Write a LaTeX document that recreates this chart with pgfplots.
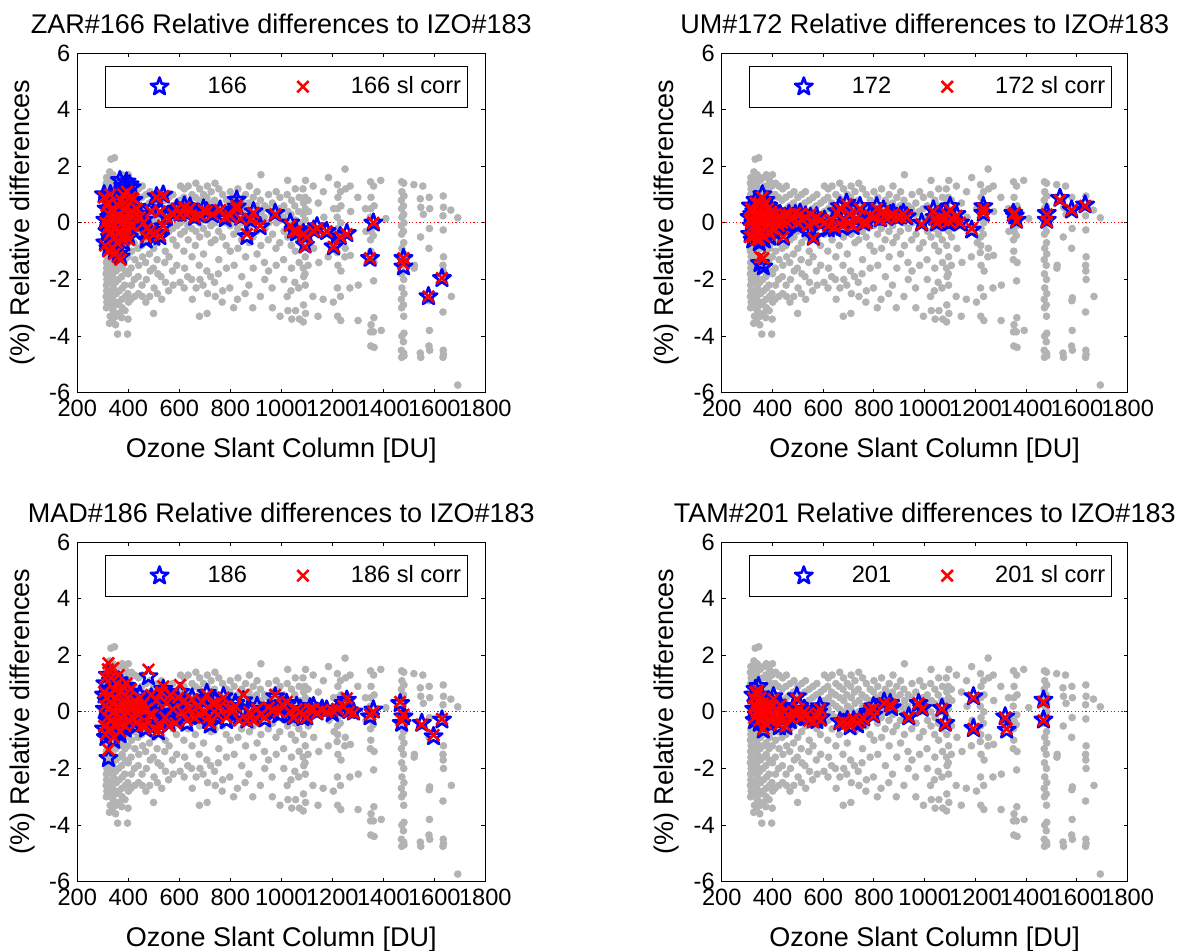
\documentclass[border=0pt]{standalone}
\usepackage{fontspec}
\setmainfont{Liberation Sans}
\usepackage{pgfplots}
\usepackage{pgfplotstable}
\pgfplotsset{compat=1.18}
\definecolor{graypt}{RGB}{179,179,179}
\pgfdeclareplotmark{pentagram}{%
  \pgfpathmoveto{\pgfpointpolar{90}{\pgfplotmarksize}}%
  \pgfpathlineto{\pgfpointpolar{126}{0.4\pgfplotmarksize}}%
  \pgfpathlineto{\pgfpointpolar{162}{\pgfplotmarksize}}%
  \pgfpathlineto{\pgfpointpolar{198}{0.4\pgfplotmarksize}}%
  \pgfpathlineto{\pgfpointpolar{234}{\pgfplotmarksize}}%
  \pgfpathlineto{\pgfpointpolar{270}{0.4\pgfplotmarksize}}%
  \pgfpathlineto{\pgfpointpolar{306}{\pgfplotmarksize}}%
  \pgfpathlineto{\pgfpointpolar{342}{0.4\pgfplotmarksize}}%
  \pgfpathlineto{\pgfpointpolar{18}{\pgfplotmarksize}}%
  \pgfpathlineto{\pgfpointpolar{54}{0.4\pgfplotmarksize}}%
  \pgfpathclose
  \pgfusepathqstroke
}

% shared gray background points
\pgfplotstableread[row sep=\\]{
x y\\
315 1.6\\ 313 1.4\\ 316 1.2\\ 314 1.0\\ 315 0.8\\ 313 0.6\\ 316 0.4\\ 314 0.2\\ 315 0\\ 313 -0.2\\ 316 -0.4\\ 314 -0.6\\ 315 -0.8\\ 313 -1.0\\ 316 -1.2\\ 314 -1.4\\ 315 -1.6\\ 313 -1.8\\ 316 -2.0\\ 314 -2.2\\ 315 -2.4\\ 313 -2.6\\ 316 -2.8\\ 314 -3.0\\
327 1.8\\ 329 1.5\\ 326 1.1\\ 328 0.7\\ 327 0.3\\ 329 -0.1\\ 326 -0.5\\ 328 -0.9\\ 327 -1.3\\ 329 -1.7\\ 326 -2.1\\ 328 -2.5\\ 327 -2.9\\ 329 -3.3\\ 326 -3.55\\
332 2.25\\ 340 1.7\\ 338 1.3\\ 341 0.9\\ 339 0.5\\ 340 0.1\\ 338 -0.3\\ 341 -0.7\\ 339 -1.1\\ 340 -1.5\\ 338 -1.9\\ 341 -2.3\\ 339 -2.7\\ 340 -3.1\\ 338 -3.5\\
346 2.3\\ 352 1.5\\ 350 1.1\\ 353 0.7\\ 351 0.3\\ 352 -0.1\\ 350 -0.5\\ 353 -0.9\\ 351 -1.3\\ 352 -1.7\\ 350 -2.1\\ 353 -2.5\\ 351 -2.9\\ 352 -3.3\\ 350 -3.6\\ 358 -3.93\\
364 1.6\\ 362 1.2\\ 365 0.8\\ 363 0.4\\ 364 0.0\\ 362 -0.4\\ 365 -0.8\\ 363 -1.2\\ 364 -1.6\\ 362 -2.0\\ 365 -2.4\\ 363 -2.8\\ 364 -3.2\\
376 1.7\\ 374 1.3\\ 377 0.9\\ 375 0.5\\ 376 0.1\\ 374 -0.3\\ 377 -0.7\\ 375 -1.1\\ 376 -1.5\\ 374 -1.9\\ 377 -2.3\\ 375 -2.7\\ 376 -3.0\\ 374 -3.35\\
388 1.5\\ 386 1.1\\ 389 0.7\\ 387 0.3\\ 388 -0.1\\ 386 -0.5\\ 389 -0.9\\ 387 -1.3\\ 388 -1.7\\ 386 -2.2\\ 389 -2.6\\ 387 -3.1\\ 397 -3.93\\
400 1.7\\ 398 1.3\\ 401 0.9\\ 399 0.5\\ 400 0.1\\ 398 -0.3\\ 401 -0.7\\ 399 -1.2\\ 400 -1.8\\ 398 -2.5\\ 401 -2.8\\ 399 -3.4\\
412 1.4\\ 410 1.0\\ 413 0.6\\ 411 0.2\\ 412 -0.2\\ 410 -0.6\\ 413 -1.0\\ 411 -1.6\\ 412 -2.2\\ 410 -2.7\\
425 1.3\\ 423 0.9\\ 426 0.5\\ 424 0.1\\ 425 -0.3\\ 423 -0.7\\ 426 -1.3\\ 424 -2.0\\ 425 -2.6\\
440 1.2\\ 438 0.8\\ 441 0.4\\ 439 0.0\\ 440 -0.4\\ 438 -0.9\\ 441 -1.5\\ 439 -1.9\\ 440 -2.5\\
455 1.3\\ 453 0.9\\ 456 0.5\\ 454 0.1\\ 455 -0.3\\ 453 -0.8\\ 456 -1.2\\ 454 -2.2\\ 455 -2.6\\
470 1.0\\ 468 0.6\\ 471 0.2\\ 469 -0.2\\ 470 -0.6\\ 468 -1.4\\ 471 -2.0\\ 469 -2.8\\
485 1.1\\ 483 0.7\\ 486 0.3\\ 484 -0.1\\ 485 -0.5\\ 483 -1.1\\ 486 -1.7\\ 484 -2.6\\
500 0.9\\ 498 0.5\\ 501 0.1\\ 499 -0.3\\ 500 -0.9\\ 498 -1.6\\ 501 -2.3\\ 499 -3.2\\
515 1.0\\ 513 0.6\\ 516 0.2\\ 514 -0.2\\ 515 -0.7\\ 513 -1.3\\ 516 -1.8\\ 514 -2.5\\
530 1.1\\ 528 0.7\\ 531 0.3\\ 529 -0.1\\ 530 -0.5\\ 528 -1.9\\ 531 -2.7\\
545 0.8\\ 543 0.4\\ 546 0.0\\ 544 -0.4\\ 545 -1.0\\ 543 -1.4\\ 546 -2.1\\
560 0.9\\ 558 0.5\\ 561 0.1\\ 559 -0.3\\ 560 -1.2\\ 558 -2.4\\
575 1.0\\ 573 0.6\\ 576 0.2\\ 574 -0.2\\ 575 -0.6\\ 573 -1.7\\ 576 -2.2\\
590 0.7\\ 588 0.3\\ 591 -0.1\\ 589 -0.8\\ 590 -1.5\\
605 1.3\\ 603 0.8\\ 606 0.4\\ 604 0.0\\ 605 -0.4\\ 603 -2.1\\
620 1.2\\ 618 0.9\\ 621 0.5\\ 619 0.1\\ 620 -0.3\\ 618 -1.0\\ 621 -1.6\\ 619 -2.3\\
635 1.3\\ 633 0.7\\ 636 0.3\\ 634 -0.1\\ 635 -0.6\\ 633 -1.9\\
650 1.0\\ 648 0.6\\ 651 0.2\\ 649 -0.2\\ 650 -1.2\\ 648 -2.0\\ 651 -2.7\\
665 1.4\\ 663 0.9\\ 666 0.5\\ 664 0.1\\ 665 -0.3\\ 663 -0.8\\ 666 -2.3\\
680 1.2\\ 678 0.8\\ 681 0.4\\ 679 0.0\\ 680 -0.5\\ 678 -1.5\\ 681 -2.0\\ 679 -3.3\\
695 1.0\\ 693 0.6\\ 696 0.2\\ 694 -0.2\\ 695 -1.1\\ 693 -2.2\\
710 1.3\\ 708 0.9\\ 711 0.5\\ 709 0.1\\ 710 -0.4\\ 708 -1.7\\ 711 -2.5\\ 709 -3.2\\
725 1.1\\ 723 0.7\\ 726 0.3\\ 724 -0.1\\ 725 -0.7\\ 723 -1.9\\
740 1.4\\ 738 0.8\\ 741 0.4\\ 739 0.0\\ 740 -0.6\\ 738 -2.1\\ 741 -2.6\\
755 1.2\\ 753 0.6\\ 756 0.2\\ 754 -0.3\\ 755 -1.3\\ 753 -1.8\\
770 1.0\\ 768 0.5\\ 771 0.1\\ 769 -0.5\\ 770 -2.4\\ 768 -2.8\\
785 0.8\\ 783 0.4\\ 786 0.0\\ 784 -0.8\\ 785 -1.6\\
800 1.1\\ 798 0.7\\ 801 0.3\\ 799 -0.1\\ 800 -1.0\\ 798 -2.3\\
815 0.9\\ 813 0.5\\ 816 0.1\\ 814 -0.4\\ 815 -1.5\\ 813 -3.0\\
830 1.2\\ 828 0.6\\ 831 0.2\\ 829 -0.2\\ 830 -0.9\\ 828 -2.7\\
845 0.8\\ 843 0.4\\ 846 0.0\\ 844 -0.6\\ 845 -1.9\\
860 1.0\\ 858 0.6\\ 861 0.2\\ 859 -0.3\\ 860 -1.2\\ 858 -2.5\\
875 1.3\\ 873 0.7\\ 876 0.3\\ 874 -0.1\\ 875 -0.7\\ 873 -2.2\\
890 0.9\\ 888 0.5\\ 891 0.1\\ 889 -0.5\\ 890 -1.6\\ 888 -3.0\\
905 1.1\\ 903 0.6\\ 906 0.2\\ 904 -0.3\\ 905 -1.1\\
920 1.7\\ 918 0.8\\ 921 0.4\\ 919 0.0\\ 920 -0.8\\ 918 -2.6\\
935 0.6\\ 933 0.2\\ 936 -0.2\\ 934 -1.4\\ 935 -2.0\\
950 1.0\\ 948 0.5\\ 951 0.0\\ 949 -0.6\\ 950 -1.7\\
965 0.7\\ 963 0.3\\ 966 -0.4\\ 964 -2.3\\ 965 -3.0\\
980 1.1\\ 978 0.4\\ 981 0.0\\ 979 -0.9\\ 980 -1.5\\
995 0.9\\ 993 0.5\\ 996 0.1\\ 994 -0.7\\ 995 -3.3\\
1010 0.6\\ 1008 0.2\\ 1011 -0.3\\ 1009 -1.3\\ 1010 -2.0\\
1025 1.5\\ 1023 1.0\\ 1026 0.4\\ 1024 0.0\\ 1025 -0.5\\ 1023 -2.6\\ 1026 -3.1\\
1040 0.8\\ 1038 0.3\\ 1041 -0.2\\ 1039 -0.8\\ 1040 -1.6\\ 1038 -2.4\\ 1041 -3.4\\
1055 1.2\\ 1053 0.6\\ 1056 0.1\\ 1054 -0.4\\ 1055 -1.0\\ 1053 -2.1\\ 1056 -3.1\\
1070 0.9\\ 1068 0.4\\ 1071 0.0\\ 1069 -0.6\\ 1070 -1.4\\ 1068 -2.3\\ 1071 -3.4\\
1085 1.2\\ 1087 0.7\\ 1086 0.3\\ 1088 -0.2\\ 1087 -0.8\\ 1086 -1.6\\ 1088 -1.9\\ 1087 -2.9\\ 1086 -3.5\\
1095 1.5\\ 1093 0.9\\ 1094 0.5\\ 1093 0.1\\ 1095 -0.3\\ 1094 -1.2\\ 1093 -1.8\\ 1094 -2.2\\ 1095 -3.2\\
1105 0.8\\ 1107 0.4\\ 1106 -0.5\\ 1105 -1.5\\
1125 1.3\\ 1127 -0.9\\ 1124 -2.6\\
1145 0.7\\ 1147 -1.4\\ 1144 -3.3\\
1165 1.1\\ 1167 0.2\\ 1164 -2.7\\
1185 1.6\\ 1187 -0.3\\ 1184 -1.2\\
1205 0.5\\ 1207 -0.7\\ 1204 -2.8\\
1220 1.35\\ 1222 0.9\\ 1221 0.5\\ 1219 0.2\\ 1222 -0.2\\ 1220 -0.5\\ 1221 -0.8\\ 1219 -1.05\\ 1222 -1.5\\ 1220 -2.3\\ 1221 -3.3\\
1232 1.1\\ 1234 0.6\\ 1233 0.0\\ 1231 -0.4\\ 1234 -1.7\\ 1232 -2.6\\ 1233 -3.45\\
1250 1.9\\ 1252 1.2\\ 1251 -0.9\\ 1249 -1.2\\
1270 1.3\\ 1272 0.4\\ 1271 -1.15\\ 1269 -2.3\\
1300 0.9\\ 1302 -2.2\\ 1301 -3.45\\
1330 0.5\\ 1332 -0.3\\
1350 1.45\\ 1352 0.9\\ 1351 0.5\\ 1349 0.2\\ 1352 -0.3\\ 1350 -0.6\\ 1351 -1.0\\ 1349 -1.3\\ 1352 -3.6\\ 1350 -3.85\\ 1351 -4.35\\
1362 1.3\\ 1364 0.6\\ 1363 -0.1\\ 1361 -0.45\\ 1364 -1.4\\ 1362 -2.05\\ 1363 -3.35\\ 1361 -3.85\\ 1364 -4.4\\
1390 1.5\\ 1392 -3.8\\
1410 0.15\\
1472 1.45\\ 1473 1.1\\ 1471 0.8\\ 1472 0.5\\ 1473 0.2\\ 1471 -0.1\\ 1472 -0.4\\ 1473 -0.9\\ 1471 -1.3\\ 1472 -1.8\\ 1473 -2.3\\ 1471 -2.7\\ 1472 -3.0\\ 1473 -4.0\\ 1471 -4.5\\ 1472 -4.75\\
1480 1.4\\ 1481 0.95\\ 1479 0.6\\ 1480 0.3\\ 1481 0.0\\ 1479 -0.3\\ 1480 -0.7\\ 1481 -1.1\\ 1479 -1.5\\ 1480 -2.0\\ 1481 -2.5\\ 1479 -2.9\\ 1480 -3.3\\ 1481 -3.9\\ 1479 -4.2\\ 1480 -4.6\\ 1481 -4.7\\
1520 1.35\\ 1522 -1.5\\ 1521 -1.6\\
1545 0.85\\ 1547 0.55\\ 1546 -0.5\\ 1545 -4.6\\ 1547 -4.75\\
1555 1.3\\ 1557 0.3\\
1580 0.9\\ 1582 0.5\\ 1581 -0.2\\ 1579 -0.9\\ 1582 -2.65\\ 1580 -2.75\\ 1581 -3.8\\ 1579 -4.35\\ 1582 -4.5\\
1635 0.95\\ 1636 0.55\\ 1634 0.25\\ 1635 -0.25\\ 1636 -1.2\\ 1634 -1.5\\ 1635 -1.7\\ 1636 -2.0\\ 1634 -3.15\\ 1635 -4.5\\ 1636 -4.65\\ 1634 -4.75\\
1665 0.45\\ 1667 -2.6\\
1692 0.18\\ 1692 -5.73\\
}\grayd

% ZAR#166: x, star (166), cross (166 sl corr)
\pgfplotstableread[row sep=\\]{
x b r\\
305 1.0 0.9\\ 310 0.1 0.0\\ 310 -0.7 -0.8\\ 315 0.5 0.6\\ 318 -0.3 -0.2\\ 320 0.8 0.7\\ 322 -0.9 -1.0\\ 325 0.2 0.3\\ 328 -0.5 -0.4\\ 330 1.0 1.0\\
332 0.0 -0.1\\ 335 -0.2 -0.3\\ 338 0.4 0.5\\ 340 -0.8 -0.9\\ 342 0.6 0.4\\ 345 -1.0 -1.1\\ 348 0.1 0.2\\ 350 -0.4 -0.5\\ 352 0.3 0.2\\ 355 -0.6 -0.7\\
358 0.0 0.1\\ 360 -1.1 -1.2\\ 362 0.5 0.6\\ 365 -0.2 -0.3\\ 368 0.2 0.1\\ 370 -1.2 -1.3\\ 372 0.7 0.8\\ 375 -0.4 -0.5\\ 378 0.1 0.0\\ 380 0.9 1.0\\
382 -0.7 -0.6\\ 385 0.3 0.2\\ 388 -0.1 -0.2\\ 390 0.6 0.5\\ 392 -0.3 -0.4\\ 395 1.0 1.1\\ 398 0.0 0.1\\ 400 0.4 0.3\\ 402 -0.5 -0.6\\ 405 0.2 0.1\\
408 0.8 0.9\\ 410 -0.2 -0.1\\ 415 0.5 0.4\\ 418 0.0 -0.1\\ 420 0.3 0.2\\
367 1.5 nan\\ 380 1.3 nan\\ 393 1.45 nan\\ 405 1.35 nan\\ 413 1.25 nan\\ 385 1.1 nan\\
420 0.8 0.85\\ 433 0.55 0.5\\ 445 0.3 0.2\\ 459 0.1 0.0\\ 470 -0.6 -0.5\\ 472 -0.3 -0.2\\ 485 -0.25 -0.3\\ 490 0.5 0.4\\ 500 -0.5 -0.4\\ 511 0.93 0.9\\
524 0.46 0.4\\ 524 -0.48 -0.45\\ 537 0.99 0.95\\ 537 -0.13 -0.1\\ 550 0.2 0.2\\ 577 0.34 0.3\\ 590 0.5 0.5\\ 603 0.34 0.3\\ 620 0.6 0.55\\ 629 0.34 0.3\\
642 0.57 0.5\\ 660 0.2 0.2\\ 681 0.28 0.25\\ 695 0.5 0.45\\ 707 0.4 0.4\\ 730 0.3 0.3\\ 760 0.46 0.45\\ 780 0.15 0.2\\ 799 0.28 0.25\\ 825 0.81 0.6\\
825 0.57 0.5\\ 840 0.2 0.15\\ 865 -0.48 -0.4\\ 880 0.1 0.1\\ 891 0.4 0.35\\ 917 -0.13 -0.1\\ 976 0.34 0.3\\ 1035 0.0 -0.1\\ 1048 -0.25 -0.3\\ 1060 -0.35 -0.3\\
1087 -0.37 -0.4\\ 1093 -0.78 -0.85\\ 1100 -0.45 -0.5\\ 1127 -0.25 -0.3\\ 1140 -0.13 -0.2\\ 1178 -0.3 -0.3\\ 1205 -0.84 -0.85\\ 1231 -0.48 -0.5\\ 1257 -0.37 -0.4\\
1348 -1.25 -1.25\\ 1361 0.0 0.0\\ 1479 -1.25 -1.25\\ 1479 -1.55 -1.45\\ 1577 -2.6 -2.6\\ 1630 -1.96 -1.95\\
}\dataA

% UM#172
\pgfplotstableread[row sep=\\]{
x b r\\
310 0.2 0.1\\ 312 -0.4 -0.5\\ 315 0.6 0.5\\ 318 -0.1 0.0\\ 320 0.3 0.4\\ 322 -0.6 -0.5\\ 325 0.0 -0.1\\ 328 0.4 0.3\\ 330 -0.3 -0.2\\ 333 0.8 0.7\\
335 0.1 0.2\\ 338 -0.5 -0.6\\ 340 0.5 0.4\\ 343 -0.2 -0.1\\ 345 0.2 0.1\\ 348 -0.7 -0.6\\ 350 0.6 0.7\\ 352 0.0 0.1\\ 355 -0.4 -0.3\\ 358 0.3 0.2\\
360 1.0 0.9\\ 362 -0.1 0.0\\ 365 0.5 0.6\\ 368 -0.6 -0.5\\ 370 0.2 0.3\\ 372 0.8 0.7\\ 375 -0.3 -0.2\\ 378 0.4 0.3\\ 380 0.0 0.1\\ 383 0.6 0.5\\
385 -0.2 -0.3\\ 388 0.3 0.2\\ 390 -0.5 -0.4\\ 393 0.1 0.0\\ 395 0.5 0.4\\ 398 -0.1 -0.2\\ 400 0.2 0.3\\ 405 -0.3 -0.2\\ 410 0.4 0.3\\ 415 0.0 0.1\\
420 0.2 0.2\\ 425 -0.2 -0.1\\ 430 0.3 0.2\\ 438 0.1 0.0\\ 443 -0.5 -0.5\\ 450 0.2 0.3\\ 458 -0.1 0.0\\ 465 0.3 0.3\\ 472 0.0 0.1\\ 480 0.2 0.2\\
490 0.3 0.35\\ 500 -0.1 0.0\\ 509 0.34 0.3\\ 520 0.0 0.1\\ 530 0.25 0.2\\ 540 -0.2 -0.1\\ 550 0.2 0.3\\ 561 -0.5 -0.55\\ 565 0.1 0.0\\ 574 0.22 0.2\\
590 0.0 0.1\\ 605 0.1 0.0\\ 620 -0.2 -0.1\\ 635 0.0 0.1\\ 645 -0.2 -0.15\\ 655 0.4 0.35\\ 666 0.58 0.5\\ 675 -0.15 -0.1\\ 680 0.2 0.1\\ 692 0.7 0.65\\
700 0.1 0.0\\ 705 0.34 0.3\\ 718 -0.13 -0.1\\ 730 0.2 0.15\\ 745 0.58 0.5\\ 760 0.0 0.0\\ 771 0.1 0.0\\ 785 0.3 0.25\\ 800 0.2 0.2\\ 811 0.58 0.5\\
825 0.15 0.1\\ 837 0.46 0.4\\ 850 0.2 0.15\\ 865 0.3 0.25\\ 876 0.34 0.3\\ 890 0.2 0.2\\ 905 0.25 0.2\\ 916 0.34 0.3\\ 929 0.22 0.2\\ 988 0.0 -0.05\\
1034 0.46 0.4\\ 1040 0.2 0.15\\ 1047 0.0 0.0\\ 1060 0.3 0.2\\ 1075 0.1 0.1\\ 1087 0.34 0.3\\ 1095 0.0 0.05\\ 1100 0.58 0.45\\ 1113 0.1 0.1\\ 1125 0.3 0.25\\
1139 0.0 0.0\\ 1185 -0.25 -0.2\\ 1231 0.58 0.5\\ 1231 0.34 0.35\\ 1349 0.34 0.3\\ 1362 0.1 0.05\\ 1355 0.25 0.35\\ 1481 0.34 0.3\\ 1481 0.1 0.05\\ 1533 0.87 0.8\\
1579 0.46 0.45\\ 1632 0.64 0.6\\ 351 -1.43 -1.2\\ 364 -1.55 -1.25\\
}\dataB

% MAD#186
\pgfplotstableread[row sep=\\]{
x b r\\
305 0.6 0.7\\ 305 -0.6 -0.5\\ 308 0.1 0.2\\ 310 1.0 1.2\\ 312 -0.9 -0.8\\ 315 0.4 0.5\\ 318 -0.3 -0.2\\ 320 1.3 1.5\\ 322 -1.64 -1.34\\ 322 0.8 1.72\\
325 0.0 0.1\\ 328 -0.7 -0.6\\ 330 0.5 0.6\\ 332 1.1 1.2\\ 335 -0.4 -0.3\\ 338 0.2 0.3\\ 341 1.2 1.55\\ 343 -1.0 -0.9\\ 345 0.7 0.8\\ 348 -0.1 0.0\\
350 0.4 0.5\\ 352 -0.6 -0.5\\ 355 0.9 1.0\\ 358 0.1 0.2\\ 360 -0.3 -0.4\\ 362 1.1 1.3\\ 365 0.3 0.2\\ 368 -0.8 -0.7\\ 370 0.6 0.7\\ 372 0.0 0.1\\
375 -0.5 -0.4\\ 378 0.8 0.9\\ 380 0.2 0.3\\ 383 -0.2 -0.1\\ 385 0.5 0.4\\ 388 -0.6 -0.5\\ 390 0.3 0.2\\ 393 0.9 1.0\\ 395 -0.1 0.0\\ 398 0.4 0.5\\
400 -0.4 -0.3\\ 405 0.2 0.1\\ 410 0.7 0.8\\ 415 -0.3 -0.2\\ 420 0.1 0.2\\ 425 0.5 0.4\\ 430 -0.5 -0.4\\ 435 0.3 0.2\\ 440 -0.2 -0.1\\ 445 0.6 0.5\\
450 0.0 0.1\\ 455 -0.4 -0.5\\ 460 0.4 0.3\\ 468 -0.6 -0.5\\ 472 0.2 0.1\\ 479 1.25 1.49\\ 485 -0.2 -0.1\\ 490 0.5 0.6\\ 495 0.0 -0.1\\ 500 -0.5 -0.6\\
510 0.3 0.4\\ 518 -0.7 -0.65\\ 524 -0.4 -0.5\\ 530 0.6 0.7\\ 537 0.8 0.9\\ 545 -0.3 -0.2\\ 550 0.2 0.3\\ 560 -0.4 -0.5\\ 565 0.5 0.6\\ 575 0.0 0.1\\
585 -0.3 -0.4\\ 595 0.4 0.5\\ 603 0.7 0.95\\ 610 -0.1 0.0\\ 620 0.3 0.4\\ 630 -0.4 -0.3\\ 640 0.2 0.1\\ 650 0.5 0.45\\ 660 -0.1 -0.2\\ 670 0.3 0.2\\
681 -0.17 -0.1\\ 690 0.4 0.35\\ 700 0.1 0.0\\ 708 0.66 0.6\\ 715 -0.3 -0.2\\ 721 -0.46 -0.4\\ 730 0.2 0.3\\ 740 0.4 0.3\\ 750 -0.2 -0.1\\ 760 0.1 0.2\\
773 0.54 0.5\\ 785 -0.3 -0.2\\ 795 0.2 0.1\\ 810 0.0 0.1\\ 820 0.3 0.2\\ 835 -0.2 -0.3\\ 851 0.4 0.6\\ 865 -0.28 -0.3\\ 875 0.1 0.0\\ 890 -0.2 -0.3\\
905 0.2 0.1\\ 920 0.0 -0.1\\ 935 -0.25 -0.2\\ 950 0.1 0.15\\ 976 0.54 0.6\\ 968 0.0 0.05\\ 990 -0.1 0.0\\ 1005 0.2 0.25\\ 1021 0.3 0.35\\ 1035 -0.1 0.0\\
1048 -0.17 -0.2\\ 1060 0.2 0.1\\ 1075 0.1 0.0\\ 1085 -0.2 -0.1\\ 1100 -0.17 -0.2\\ 1113 0.15 0.1\\ 1126 0.19 0.1\\ 1140 0.0 -0.05\\ 1160 0.1 0.05\\ 1178 0.07 0.0\\
1200 -0.05 0.05\\ 1220 0.1 0.1\\ 1244 0.3 0.2\\ 1257 0.42 0.48\\ 1265 0.05 0.0\\ 1283 0.0 -0.05\\ 1348 -0.17 -0.1\\ 1361 0.07 0.0\\ 1466 0.3 0.35\\ 1479 -0.17 -0.1\\
1472 -0.4 -0.3\\ 1551 -0.4 -0.45\\ 1597 -0.87 -0.82\\ 1630 -0.28 -0.25\\
}\dataC

% TAM#201
\pgfplotstableread[row sep=\\]{
x b r\\
325 0.6 0.5\\ 328 0.1 0.2\\ 330 -0.3 -0.2\\ 333 0.8 0.7\\ 336 0.3 0.2\\ 338 -0.1 0.0\\ 340 0.5 0.6\\ 343 0.0 -0.1\\ 345 0.9 0.75\\ 348 -0.4 -0.3\\
350 0.2 0.3\\ 353 0.6 0.5\\ 356 -0.2 -0.1\\ 358 0.1 0.0\\ 361 0.4 0.3\\ 364 -0.64 -0.6\\ 367 0.0 0.1\\ 370 0.3 0.2\\ 373 -0.3 -0.4\\ 376 0.2 0.1\\
380 -0.1 0.0\\ 384 0.4 0.3\\ 388 -0.4 -0.3\\ 392 0.1 0.2\\ 396 -0.2 -0.3\\ 400 0.3 0.2\\ 404 0.54 0.45\\ 408 0.0 -0.1\\ 412 -0.3 -0.2\\ 418 0.2 0.1\\
422 -0.1 0.0\\ 427 -0.52 -0.45\\ 432 0.2 0.25\\ 440 -0.2 -0.3\\ 447 0.1 0.0\\ 453 -0.52 -0.5\\ 460 0.0 -0.1\\ 470 -0.3 -0.2\\ 480 0.1 0.0\\ 490 -0.2 -0.1\\
496 0.54 0.45\\ 496 -0.17 -0.1\\ 505 0.2 0.1\\ 515 -0.1 -0.2\\ 525 0.1 0.0\\ 535 0.0 -0.1\\ 545 -0.2 -0.3\\ 561 -0.28 -0.35\\ 575 -0.3 -0.2\\ 580 0.0 -0.05\\
587 0.19 0.1\\ 590 -0.2 -0.3\\ 666 -0.34 -0.4\\ 680 -0.4 -0.35\\ 695 -0.3 -0.4\\ 706 -0.52 -0.5\\ 720 -0.3 -0.25\\ 735 -0.45 -0.4\\ 745 -0.28 -0.3\\ 760 -0.2 -0.25\\
780 0.0 0.05\\ 798 0.19 0.1\\ 798 -0.1 -0.15\\ 840 0.35 0.3\\ 864 0.3 0.25\\ 870 0.15 0.2\\ 937 -0.17 -0.2\\ 976 0.3 0.3\\ 990 0.13 0.1\\ 1068 0.13 0.1\\
1081 -0.4 -0.45\\ 1192 0.54 0.5\\ 1192 -0.58 -0.6\\ 1317 -0.17 -0.2\\ 1323 -0.64 -0.6\\ 1468 0.42 0.35\\ 1468 -0.28 -0.3\\
}\dataD

\pgfplotsset{
  panel/.style={
    scale only axis, width=204pt, height=169.85pt,
    xmin=200, xmax=1800, ymin=-6, ymax=6,
    xtick={200,400,...,1800}, ytick={-6,-4,...,6},
    tick align=inside, major tick length=2pt,
    axis line style={line width=0.5pt},
    every tick/.style={black, line width=0.5pt},
    tick label style={font=\fontsize{11.8}{14}\selectfont},
    /pgf/number format/assume math mode=true,
    /pgf/number format/1000 sep={},
    xlabel={Ozone Slant Column [DU]},
    ylabel={(\%) Relative differences},
    label style={font=\fontsize{13.5}{16}\selectfont},
    xlabel style={at={(axis description cs:0.5,-0.171)}, anchor=center},
    ylabel style={at={(axis description cs:-0.135,0.5)}, anchor=center},
    every axis title shift=0pt,
    title style={font=\fontsize{13.5}{16}\selectfont, at={(axis description cs:0.5,1.085)}, anchor=center},
    legend columns=2,
    legend style={at={(0.068,0.963)}, anchor=north west, draw=black, line width=0.5pt,
      fill=white, inner xsep=3pt, inner ysep=2.3pt,
      font=\fontsize{11.8}{14}\selectfont,
      nodes={inner xsep=0pt, inner ysep=3pt},
      /tikz/every even column/.append style={column sep=4pt}},
    legend image code/.code={\path[draw=none,fill=none] (0pt,-4pt) rectangle (48pt,4pt); \draw[##1] plot coordinates {(24pt,0pt)};},
  },
  graypts/.style={only marks, mark=*, mark size=1.7pt, color=graypt, mark options={draw=graypt, fill=graypt}, forget plot},
  zeroline/.style={red, line width=0.5pt, dash pattern=on 0.6pt off 1.2pt, forget plot},
  stars/.style={only marks, color=blue, mark=pentagram, mark size=4.6pt, line width=1.3pt, mark options={line join=round}},
  crosses/.style={only marks, color=red, mark=x, mark size=4pt, line width=1.3pt},
}

\begin{document}
\begin{tikzpicture}
\useasboundingbox (0,0) rectangle (588.5pt,475pt);

\begin{axis}[panel, at={(38.65pt,278.65pt)}, anchor=south west,
  title={ZAR\#166 Relative differences to IZO\#183}]
  \addplot[graypts] table[x=x,y=y]{\grayd};
  \addplot[zeroline] coordinates {(200,0) (1800,0)};
  \addplot[stars] table[x=x,y=b]{\dataA};
  \addplot[crosses] table[x=x,y=r]{\dataA};
  \legend{166, 166 sl corr\hspace{3.5pt}}
\end{axis}

\begin{axis}[panel, at={(360.85pt,278.65pt)}, anchor=south west, width=203pt,
  title={UM\#172 Relative differences to IZO\#183}]
  \addplot[graypts] table[x=x,y=y]{\grayd};
  \addplot[zeroline] coordinates {(200,0) (1800,0)};
  \addplot[stars] table[x=x,y=b]{\dataB};
  \addplot[crosses] table[x=x,y=r]{\dataB};
  \legend{172, 172 sl corr\hspace{3.5pt}}
\end{axis}

\begin{axis}[panel, at={(38.65pt,34.15pt)}, anchor=south west,
  title={MAD\#186 Relative differences to IZO\#183}]
  \addplot[graypts] table[x=x,y=y]{\grayd};
  \addplot[zeroline] coordinates {(200,0) (1800,0)};
  \addplot[stars] table[x=x,y=b]{\dataC};
  \addplot[crosses] table[x=x,y=r]{\dataC};
  \legend{186, 186 sl corr\hspace{3.5pt}}
\end{axis}

\begin{axis}[panel, at={(360.85pt,34.15pt)}, anchor=south west, width=203pt,
  title={TAM\#201 Relative differences to IZO\#183}]
  \addplot[graypts] table[x=x,y=y]{\grayd};
  \addplot[zeroline] coordinates {(200,0) (1800,0)};
  \addplot[stars] table[x=x,y=b]{\dataD};
  \addplot[crosses] table[x=x,y=r]{\dataD};
  \legend{201, 201 sl corr\hspace{3.5pt}}
\end{axis}
\end{tikzpicture}
\end{document}
